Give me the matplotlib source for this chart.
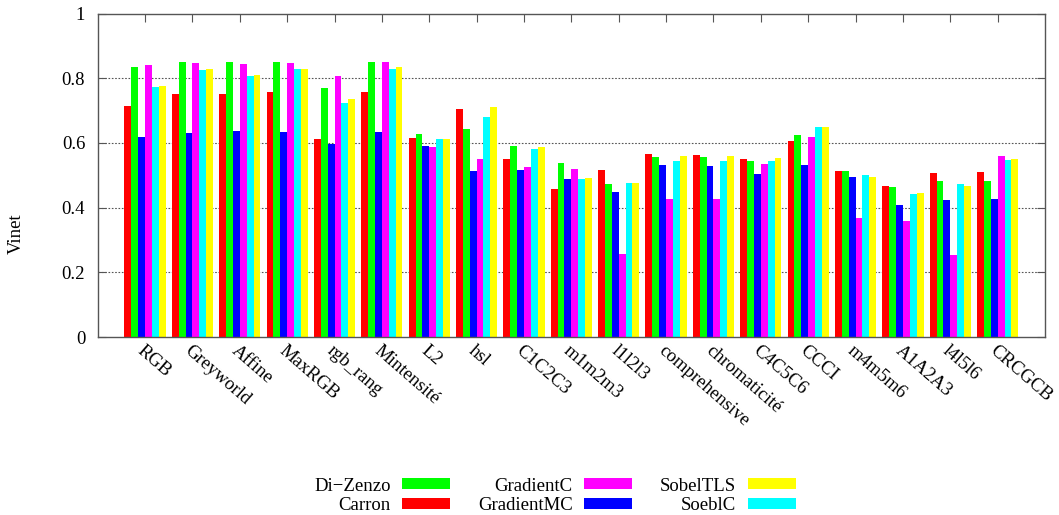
import matplotlib
matplotlib.use("Agg")
import matplotlib.pyplot as plt
import numpy as np
from matplotlib.patches import Patch

categories = ["RGB", "Greyworld", "Affine", "MaxRGB", "rgb_rang", "Mintensité", "L2", "hsl",
              "C1C2C3", "m1m2m3", "l1l2l3", "comprehensive", "chromaticité", "C4C5C6", "CCCI",
              "m4m5m6", "A1A2A3", "l4l5l6", "CRCGCB"]

carron      = [0.715, 0.752, 0.750, 0.756, 0.613, 0.756, 0.616, 0.706, 0.551, 0.459, 0.517, 0.566, 0.563, 0.549, 0.605, 0.513, 0.467, 0.507, 0.511]
di_zenzo    = [0.836, 0.849, 0.849, 0.849, 0.769, 0.849, 0.627, 0.644, 0.591, 0.538, 0.472, 0.557, 0.557, 0.543, 0.625, 0.513, 0.463, 0.482, 0.482]
gradient_mc = [0.617, 0.632, 0.638, 0.634, 0.598, 0.634, 0.591, 0.514, 0.517, 0.489, 0.448, 0.531, 0.529, 0.503, 0.533, 0.496, 0.408, 0.424, 0.428]
gradient_c  = [0.841, 0.848, 0.843, 0.847, 0.808, 0.849, 0.586, 0.550, 0.525, 0.520, 0.257, 0.428, 0.428, 0.536, 0.619, 0.367, 0.359, 0.254, 0.560]
soebl_c     = [0.773, 0.824, 0.806, 0.827, 0.724, 0.829, 0.613, 0.679, 0.580, 0.489, 0.475, 0.543, 0.543, 0.545, 0.648, 0.500, 0.443, 0.472, 0.548]
sobel_tls   = [0.777, 0.829, 0.811, 0.829, 0.735, 0.835, 0.613, 0.710, 0.588, 0.492, 0.477, 0.560, 0.560, 0.554, 0.650, 0.494, 0.445, 0.467, 0.551]

series = [
    ("Carron", carron, "#ff0000"),
    ("Di\u2212Zenzo", di_zenzo, "#00ff00"),
    ("GradientMC", gradient_mc, "#0000ff"),
    ("GradientC", gradient_c, "#ff00ff"),
    ("SoeblC", soebl_c, "#00ffff"),
    ("SobelTLS", sobel_tls, "#ffff00"),
]
colors = {name: c for name, _, c in series}

FS = 13.5
plt.rcParams['font.family'] = ['Liberation Serif', 'DejaVu Serif']
plt.rcParams['font.size'] = FS

fig = plt.figure(figsize=(10.59, 5.15), dpi=100)
W, H = 1059, 515
ax = fig.add_axes([97.7 / W, 1 - 337 / H, (1045 - 97.7) / W, (337 - 13.5) / H])

x = np.arange(len(categories))
bw = 0.145
for i, (name, vals, col) in enumerate(series):
    ax.bar(x + (i - 2.5) * bw, vals, width=bw, color=col, edgecolor='none', zorder=2)

ax.set_xlim(-1, 19)
ax.set_ylim(0, 1)
ax.set_yticks([0, 0.2, 0.4, 0.6, 0.8, 1])
ax.set_yticklabels(["0", "0.2", "0.4", "0.6", "0.8", "1"])
for yv in [0.2, 0.4, 0.6, 0.8]:
    ax.axhline(yv, color='#555555', linestyle=(0, (1.5, 1.5)), linewidth=0.8, zorder=1)

ax.set_xticks(x)
ax.set_xticklabels(categories, rotation=-41, ha='left', va='top', rotation_mode='anchor')
ax.tick_params(axis='x', direction='in', length=6, top=True, bottom=True, pad=4, color='#555555')
ax.tick_params(axis='y', direction='in', length=6, left=True, right=True, pad=9, color='#555555')
for sp in ax.spines.values():
    sp.set_color('#555555')
    sp.set_linewidth(1.0)

fig.text(16.7 / W, 1 - 234 / H, "Vinet", rotation=90, ha='center', va='center', fontsize=FS)

order = ["Di\u2212Zenzo", "Carron", "GradientC", "GradientMC", "SobelTLS", "SoeblC"]
handles = [Patch(facecolor=colors[n], edgecolor='none') for n in order]
fig.legend(handles, order, loc='center', bbox_to_anchor=(0.524, 0.037), ncol=3,
           frameon=False, markerfirst=False, handlelength=2.56, handleheight=0.53,
           handletextpad=0.6, columnspacing=1.5, labelspacing=0.15, fontsize=FS)

fig.savefig("out.png", dpi=100)
